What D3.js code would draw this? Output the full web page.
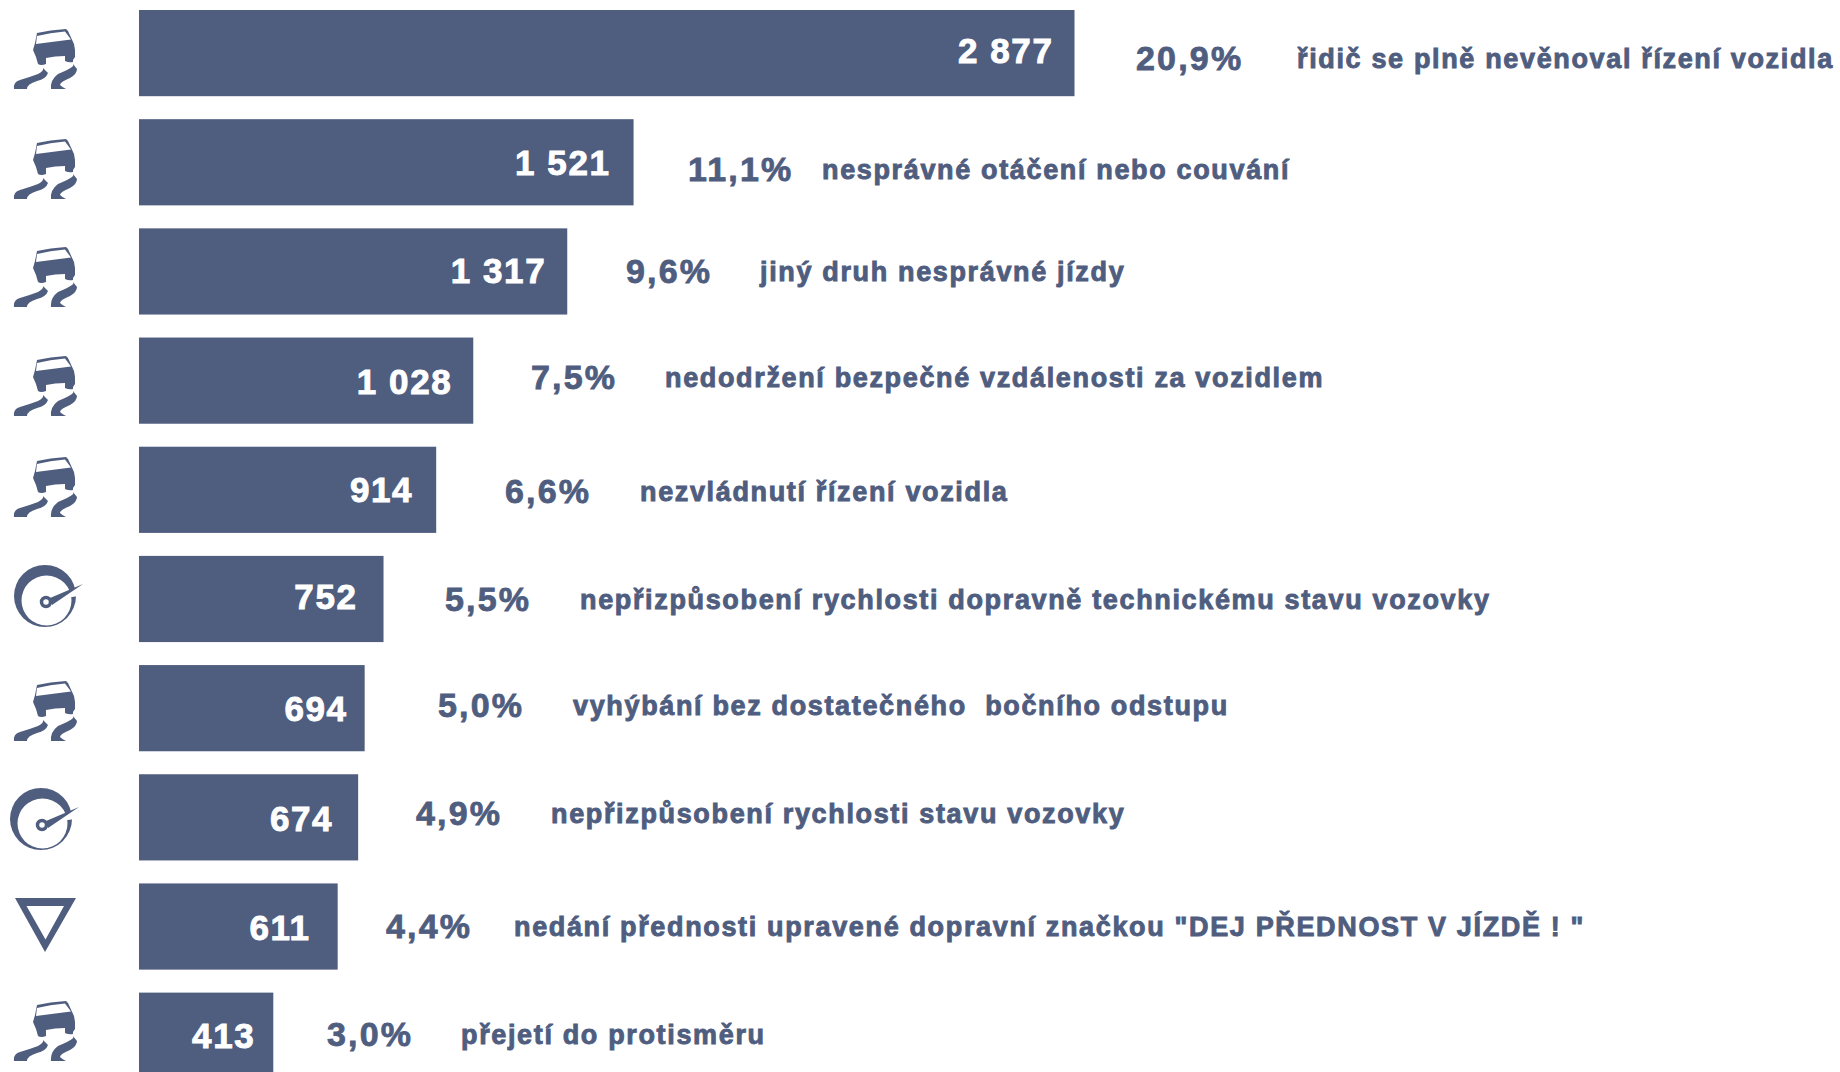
<!DOCTYPE html>
<html><head><meta charset="utf-8">
<style>html,body{margin:0;padding:0;background:#fff;overflow:hidden}svg{display:block}</style>
<script src="https://cdn.jsdelivr.net/npm/d3@7/dist/d3.min.js"></script>
</head><body><svg id="c" width="1840" height="1072"></svg>
<script>
const categories=["řidič se plně nevěnoval řízení vozidla","nesprávné otáčení nebo couvání","jiný druh nesprávné jízdy","nedodržení bezpečné vzdálenosti za vozidlem","nezvládnutí řízení vozidla","nepřizpůsobení rychlosti dopravně technickému stavu vozovky","vyhýbání bez dostatečného  bočního odstupu","nepřizpůsobení rychlosti stavu vozovky","nedání přednosti upravené dopravní značkou \"DEJ PŘEDNOST V JÍZDĚ ! \"","přejetí do protisměru"];
const values=[2877,1521,1317,1028,914,752,694,674,611,413];
const percents=["20,9%","11,1%","9,6%","7,5%","6,6%","5,5%","5,0%","4,9%","4,4%","3,0%"];
const iconKinds=["car","car","car","car","car","gauge","car","gauge","yield","car"];

// layout, read per row from the reference
const pctX=[1136,688,626,531,505,445,438,416,386,327];
const labelX=[1297,822,760,665,640,580,573,551,514,461];
const textY=[58,169,271,377,491,599,705,813,926,1034];
const valueY=[50,162,270,381,489,596,708,818,927,1035];
const valueGap=[21,23,21,21,23,26,17,25,27,18];
const iconDY=[0,110,218,327,428,0,652,0,0,972];
const color="#4f5d7f";

const svg=d3.select("#c");
const x=d3.scaleLinear().domain([0,2877]).range([139,1074.5]);
const y=d3.scaleBand().domain(categories).range([10,1078.8]).paddingInner(0.2106);
const fmt=v=>{const s=String(v);return s.length>3?s.slice(0,-3)+" "+s.slice(-3):s;};

svg.selectAll("rect.bar").data(values).join("rect").attr("class","bar")
 .attr("x",x(0)).attr("y",(d,i)=>y(categories[i])).attr("width",d=>x(d)-x(0)).attr("height",y.bandwidth()).attr("fill",color);

const font="'Liberation Sans',Arial,sans-serif";
svg.selectAll("text.val").data(values).join("text").attr("class","val")
 .attr("x",(d,i)=>x(d)-valueGap[i]).attr("y",(d,i)=>valueY[i]).attr("dy","0.36em").attr("text-anchor","end")
 .attr("fill","#fff").attr("stroke","#fff").attr("stroke-width",0.9).attr("font-family",font).attr("font-weight",700).attr("font-size",35).attr("letter-spacing",1.6)
 .style("white-space","pre").text(fmt);
svg.selectAll("text.pct").data(percents).join("text").attr("class","pct")
 .attr("x",(d,i)=>pctX[i]).attr("y",(d,i)=>textY[i]).attr("dy","0.36em")
 .attr("fill",color).attr("stroke",color).attr("stroke-width",0.8).attr("font-family",font).attr("font-weight",700).attr("font-size",34).attr("letter-spacing",2.2).text(d=>d);
svg.selectAll("text.lab").data(categories).join("text").attr("class","lab")
 .attr("x",(d,i)=>labelX[i]).attr("y",(d,i)=>textY[i]).attr("dy","0.36em")
 .attr("fill",color).attr("stroke",color).attr("stroke-width",0.9).attr("font-family",font).attr("font-weight",700).attr("font-size",27).attr("letter-spacing",1.65)
 .style("white-space","pre").text(d=>d);

const carD="M37,33 Q50,30 66,29 L68,31 L74,44 L75,50 L75,57 L73,60 L73,62 Q69,63 65,61 L65,56 Q55,56 46,58 L46,64 Q41,66 38,64 L36,57 L33,50 L35,43 Z M37,36 L36,44 L71,39.5 L65,31.5 Q50,32.5 37,36 Z "
 +"M14,89 Q13,82 20,80 Q30,77 38,74 Q44,71 43,68 L48,73 Q46,79 37,81 Q27,84 27,89 Z "
 +"M51,89 Q50,80 58,74 Q68,70 72,67 Q74,66 73,64 L77,69 Q77,74 70,78 Q60,82 60,85 Q62,87 66,89 Z";
function drawCar(i){
 svg.append("path").attr("d",carD).attr("fill",color).attr("fill-rule","evenodd").attr("transform",`translate(0,${iconDY[i]})`);
}
function drawGauge(cx,cy){
 const g=svg.append("g").attr("transform",`translate(${cx},${cy})`);
 g.append("path").attr("fill",color).attr("fill-rule","evenodd")
  .attr("d","M-31,0 A31,31 0 1 0 31,0 A31,31 0 1 0 -31,0 Z M-23.5,4.5 A25,25 0 1 0 26.5,4.5 A25,25 0 1 0 -23.5,4.5 Z");
 g.append("path").attr("fill","#fff").attr("d","M8,4 L40,-13 L40,-1 Z");
 g.append("path").attr("fill",color).attr("d","M5,2 L38,-12 L7,9 Z");
 g.append("circle").attr("cx",1).attr("cy",6).attr("r",4.5).attr("fill","#fff").attr("stroke",color).attr("stroke-width",3.5);
}
function drawYield(){
 svg.append("path").attr("fill",color).attr("fill-rule","evenodd")
  .attr("d","M15,898 L76,898 L45,952 Z M26.5,906 L64,906 L45.5,939.5 Z");
}
iconKinds.forEach((k,i)=>{
 if(k==="car")drawCar(i);
 else if(k==="gauge"){ if(i===5)drawGauge(45,596); else drawGauge(41,819); }
 else drawYield();
});
</script></body></html>
